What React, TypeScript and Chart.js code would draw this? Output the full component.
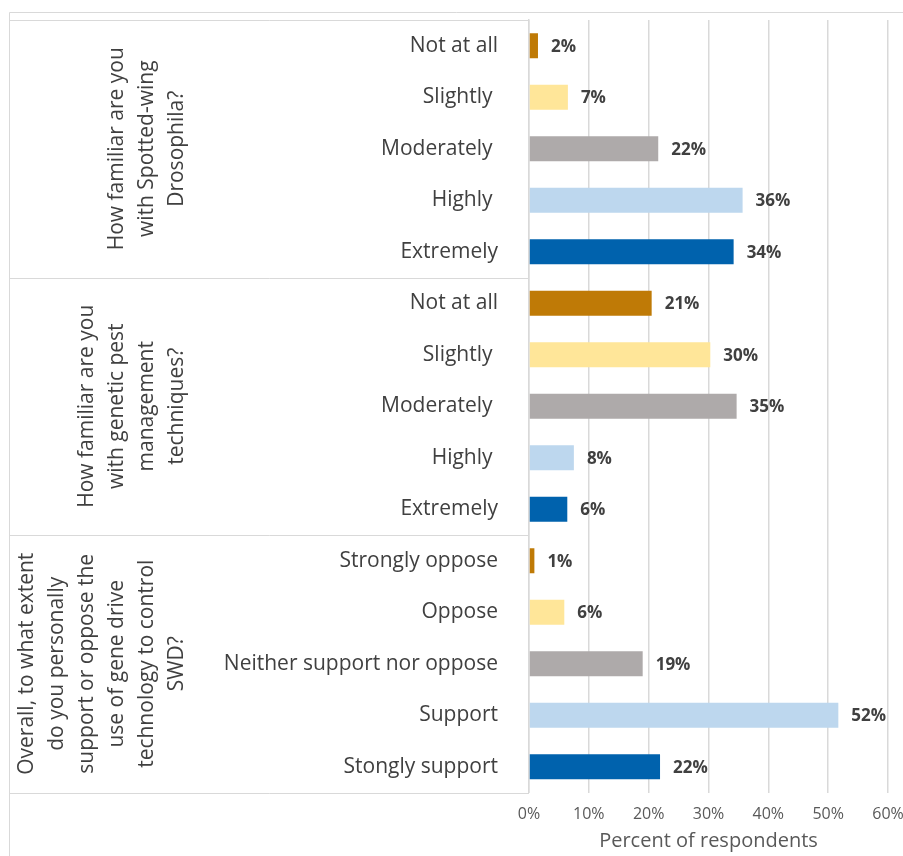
import React, { useEffect, useRef } from 'react';
import { Chart, registerables } from 'chart.js';

Chart.register(...registerables);

// ---- data ----
const familiarityLevels = ['Not at all', 'Slightly ', 'Moderately ', 'Highly ', 'Extremely'];
const supportLevels = ['Strongly oppose', 'Oppose', 'Neither support nor oppose', 'Support', 'Stongly support'];

const swdFamiliarity = [1.5, 6.5, 21.6, 35.7, 34.2];
const genePestFamiliarity = [20.5, 30.3, 34.7, 7.5, 6.4];
const geneDriveSupport = [0.9, 5.9, 19.0, 51.7, 21.9];

const questionSWD = ['How familiar are you', 'with Spotted-wing', 'Drosophila?'];
const questionGenePest = ['How familiar are you', 'with genetic pest', 'management', 'techniques?'];
const questionGeneDrive = [
  'Overall, to what extent',
  'do you personally',
  'support or oppose the',
  'use of gene drive',
  'technology to control',
  'SWD?',
];

const levelColors = ['#BF7A06', '#FFE699', '#AEAAAA', '#BDD7EE', '#0062AD'];
const xTickValues = [0, 10, 20, 30, 40, 50, 60];
const xAxisTitle = 'Percent of respondents';

const groups = [
  { question: questionSWD, levels: familiarityLevels, values: swdFamiliarity },
  { question: questionGenePest, levels: familiarityLevels, values: genePestFamiliarity },
  { question: questionGeneDrive, levels: supportLevels, values: geneDriveSupport },
];

const FONT = "'Open Sans', 'DejaVu Sans', sans-serif";
const LINE = '#D9D9D9';
const TEXT = '#404040';

function zeroPadding(scale: any) {
  scale.paddingTop = 0;
  scale.paddingBottom = 0;
  scale.paddingLeft = 0;
  scale.paddingRight = 0;
}

export default function App() {
  const canvasRef = useRef<HTMLCanvasElement | null>(null);

  useEffect(() => {
    document.body.style.margin = '0';
    const canvas = canvasRef.current;
    if (!canvas) return;

    const labels: string[] = [];
    const values: number[] = [];
    const colors: string[] = [];
    groups.forEach((g) => {
      g.levels.forEach((lv, i) => {
        labels.push(lv);
        values.push(g.values[i]);
        colors.push(levelColors[i]);
      });
    });

    const framePlugin = {
      id: 'groupFrame',
      beforeDraw(chart: any) {
        const { ctx, chartArea, scales } = chart;
        const y = scales.y;
        ctx.save();
        ctx.fillStyle = '#ffffff';
        ctx.fillRect(0, 0, chart.width, chart.height);
        ctx.strokeStyle = LINE;
        ctx.lineWidth = 1;
        const left = Math.round(y.left) + 0.5;
        const axisX = chartArea.left;
        // outer chart frame
        ctx.beginPath();
        ctx.moveTo(left, chart.height);
        ctx.lineTo(left, chartArea.top - 7.5);
        ctx.lineTo(chart.width, chartArea.top - 7.5);
        ctx.stroke();
        // group boxes
        const band = y.getPixelForValue(1) - y.getPixelForValue(0);
        let idx = 0;
        const bounds: number[] = [];
        groups.forEach((g) => {
          bounds.push(y.getPixelForValue(idx) - band / 2);
          idx += g.levels.length;
        });
        bounds.push(y.getPixelForValue(idx - 1) + band / 2);
        ctx.beginPath();
        bounds.forEach((b) => {
          const yy = Math.round(b) + 0.5;
          ctx.moveTo(left, yy);
          ctx.lineTo(axisX, yy);
        });
        ctx.moveTo(left, bounds[0]);
        ctx.lineTo(left, bounds[bounds.length - 1]);
        ctx.stroke();

        // group question labels (rotated)
        ctx.fillStyle = TEXT;
        ctx.font = `21px ${FONT}`;
        ctx.textAlign = 'center';
        ctx.textBaseline = 'middle';
        const lineGap = 30;
        const lastLineX = y.left + 168;
        groups.forEach((g, gi) => {
          const cy = (bounds[gi] + bounds[gi + 1]) / 2;
          const n = g.question.length;
          g.question.forEach((line, li) => {
            const lx = lastLineX - (n - 1 - li) * lineGap;
            ctx.save();
            ctx.translate(lx, cy);
            ctx.rotate(-Math.PI / 2);
            ctx.fillText(line, 0, 0);
            ctx.restore();
          });
        });
        ctx.restore();
      },
      afterDatasetsDraw(chart: any) {
        const { ctx } = chart;
        const meta = chart.getDatasetMeta(0);
        const data = chart.data.datasets[0].data as number[];
        ctx.save();
        ctx.fillStyle = TEXT;
        ctx.font = `bold 17px ${FONT}`;
        ctx.textAlign = 'left';
        ctx.textBaseline = 'middle';
        meta.data.forEach((bar: any, i: number) => {
          ctx.fillText(`${Math.round(data[i])}%`, bar.x + 13, bar.y + 1);
        });
        ctx.restore();
      },
    };

    const chart = new Chart(canvas, {
      type: 'bar',
      data: {
        labels,
        datasets: [
          {
            data: values,
            backgroundColor: colors,
            borderWidth: 0,
            barPercentage: 0.485,
            categoryPercentage: 1,
          },
        ],
      },
      options: {
        indexAxis: 'y',
        responsive: false,
        animation: false,
        devicePixelRatio: 1,
        layout: { padding: { top: 20, left: 9, right: 15, bottom: 0 } },
        plugins: {
          legend: { display: false },
          tooltip: { enabled: false },
          title: { display: false },
        },
        scales: {
          x: {
            type: 'linear',
            min: 0,
            max: 60,
            afterBuildTicks: (scale: any) => {
              scale.ticks = xTickValues.map((v) => ({ value: v }));
            },
            afterFit: (scale: any) => {
              scale.height = 63.5;
              zeroPadding(scale);
            },
            ticks: {
              callback: (v: any) => `${v}%`,
              color: '#595959',
              font: { family: FONT, size: 16 },
              padding: 12,
              maxRotation: 0,
            },
            grid: { color: LINE, lineWidth: 1.5, drawTicks: false },
            border: { display: false },
            title: {
              display: true,
              text: xAxisTitle,
              color: '#595959',
              font: { family: FONT, size: 20 },
              padding: { top: 0, bottom: 3 },
            },
          },
          y: {
            type: 'category',
            afterFit: (scale: any) => {
              scale.width = 520;
              zeroPadding(scale);
            },
            ticks: {
              color: TEXT,
              font: { family: FONT, size: 21 },
              padding: 31,
              autoSkip: false,
            },
            grid: { display: false, drawTicks: false },
            border: { display: true, color: LINE, width: 1.5 },
          },
        },
      },
      plugins: [framePlugin],
    });

    return () => chart.destroy();
  }, []);

  return (
    <div style={{ width: 903, height: 856 }}>
      <canvas ref={canvasRef} width={903} height={856} style={{ display: 'block' }} />
    </div>
  );
}
